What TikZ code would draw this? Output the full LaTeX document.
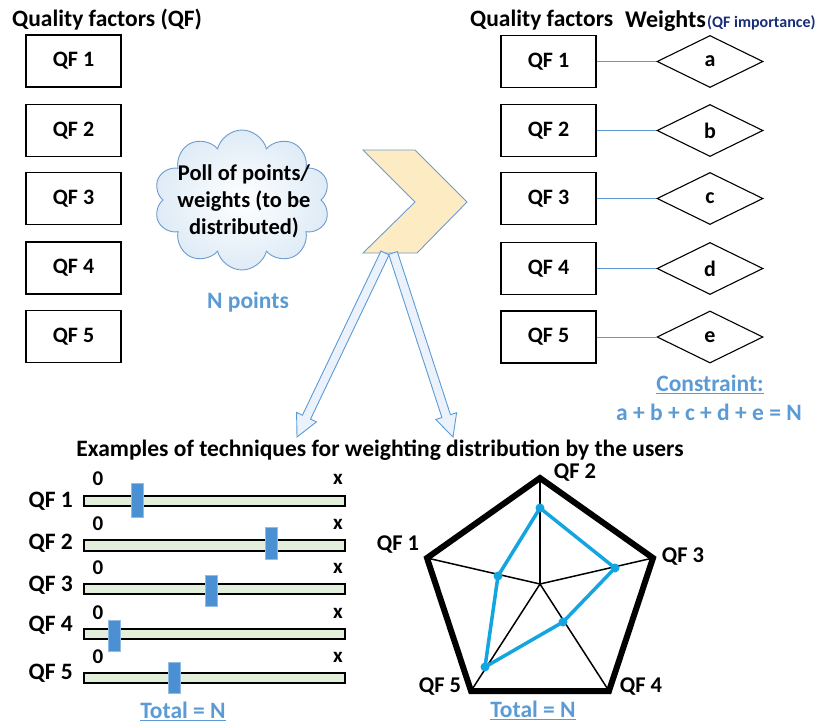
\documentclass[tikz,border=0pt]{standalone}
\usepackage{fontspec}
\setmainfont{Carlito}
\usetikzlibrary{shapes.geometric,shapes.symbols,calc}
\definecolor{qblue}{RGB}{91,155,213}
\definecolor{navyq}{RGB}{25,45,120}
\definecolor{cloudline}{RGB}{110,155,205}
\definecolor{chevfill}{RGB}{252,235,195}
\definecolor{radarblue}{RGB}{20,165,225}
\definecolor{barfill}{RGB}{226,239,218}
\definecolor{handlefill}{RGB}{74,144,210}
\definecolor{arrowfill}{RGB}{236,242,251}
\newcommand\fsz[2]{\fontsize{#1}{#2}\selectfont}
\begin{document}
\begin{tikzpicture}[x=1pt,y=-1pt,
  every node/.style={font=\bfseries\fsz{23.5}{28}, inner sep=0pt},
  qfbox/.style={draw, line width=1.1pt, minimum width=95pt, minimum height=52pt, font=\bfseries\fsz{22}{26}},
  wdiam/.style={draw, diamond, line width=1.1pt, minimum width=106pt, minimum height=52pt, font=\bfseries\fsz{22}{26}},
  link/.style={draw=qblue, line width=1pt},
  bararr/.style={draw=qblue, line width=0.9pt, fill=arrowfill, line join=miter},
  sbar/.style={draw, line width=1.2pt, fill=barfill},
  shandle/.style={draw=handlefill!60!white, line width=0.8pt, fill=handlefill},
  bluetxt/.style={text=qblue},
  small/.style={font=\bfseries\fsz{21}{25}}
]
\useasboundingbox (0,0) rectangle (823,726);

% ---------- headers ----------
\node[anchor=west] (hl) at (12,20) {Quality factors (QF)};
\node[anchor=west] (hr) at (470,20) {Quality factors};
\node[anchor=west, font=\bfseries\fsz{24}{28}] (hw) at (625,21) {Weights};
\node[anchor=west, text=navyq, font=\bfseries\fsz{16}{19}] (hi) at (707,23) {(QF importance)};

% ---------- left boxes ----------
\node[qfbox] (l1) at (73.5,61) {QF 1};
\node[qfbox] (l2) at (73.5,130.5) {QF 2};
\node[qfbox] (l3) at (73.5,198.5) {QF 3};
\node[qfbox] (l4) at (73.5,268) {QF 4};
\node[qfbox] (l5) at (73.5,336.5) {QF 5};

% ---------- cloud ----------
\node[cloud, cloud puffs=10, cloud ignores aspect, minimum width=176pt, minimum height=140pt,
      draw=cloudline, line width=0.9pt, inner color=white, outer color=qblue!20] (cloud) at (242,200) {};
\node[align=center, font=\bfseries\fsz{22.5}{27}] (cloudtxt) at (244,201) {Poll of points/\\weights (to be\\distributed)};
\node[bluetxt] (npts) at (248,302) {N points};

% ---------- chevron ----------
\coordinate (c1) at (363,150);
\coordinate (c2) at (415,150);
\coordinate (c3) at (467,202);
\coordinate (c4) at (417,253);
\coordinate (c5) at (363,253);
\coordinate (c6) at (415,202);
\draw[draw=cloudline, line width=0.9pt, fill=chevfill] (c1) -- (c2) -- (c3) -- (c4) -- (c5) -- (c6) -- cycle;

% ---------- block arrows ----------
\coordinate (s1) at (385,253);
\coordinate (t1) at (297,437);
\coordinate (s2) at (393,253);
\coordinate (t2) at (453,437);
\foreach \s/\t in {s1/t1, s2/t2}{
  \coordinate (h) at ($(\t)!22pt!(\s)$);
  \draw[bararr] ($(\s)!4.5pt!90:(\t)$) -- ($(h)!4.5pt!-90:(\s)$) -- ($(h)!11pt!-90:(\s)$) -- (\t)
     -- ($(h)!11pt!90:(\s)$) -- ($(h)!4.5pt!90:(\s)$) -- ($(\s)!4.5pt!-90:(\t)$) -- cycle;
}

% ---------- right boxes and diamonds ----------
\node[qfbox] (r1) at (548.5,61.5) {QF 1};
\node[qfbox] (r2) at (548.5,130.5) {QF 2};
\node[qfbox] (r3) at (548.5,198.5) {QF 3};
\node[qfbox] (r4) at (548.5,268.5) {QF 4};
\node[qfbox] (r5) at (548.5,337) {QF 5};
\node[wdiam] (d1) at (710,61.5) {a};
\node[wdiam] (d2) at (710,130.5) {b};
\node[wdiam] (d3) at (710,198.5) {c};
\node[wdiam] (d4) at (710,268.5) {d};
\node[wdiam] (d5) at (710,337) {e};
\foreach \i in {1,...,5}{ \draw[link] (r\i.east) -- (d\i.west); }

\node[bluetxt] (cons) at (710,384) {\underline{Constraint:}};
\node[bluetxt] (eq) at (709,412) {a + b + c + d + e = N};

% ---------- bottom title ----------
\node (ex) at (380,450) {Examples of techniques for weighting distribution by the users};

% ---------- sliders ----------
\foreach \i/\bt/\bb/\hx/\hy/\hyb/\ly/\zy in {
   1/496/506/131/483/517/501/479,
   2/540/551/265/527/559/543/524,
   3/584/594/205/575/606/585/568,
   4/629/639/108/620/651/625/613,
   5/673/683/168/662/693/673/657}{
  \draw[sbar] (84,\bt) rectangle (345,\bb);
  \draw[shandle] (\hx,\hy) rectangle ++(12.5,\hyb-\hy);
  \node[anchor=east] (sl\i) at (73,\ly) {QF \i};
  \node[small] (sz\i) at (98,\zy) {0};
  \node[small] (sx\i) at (338,\zy) {x};
}
\node[bluetxt] (tot1) at (183,711) {\underline{Total = N}};

% ---------- radar ----------
\coordinate (rc) at (540,584);
\coordinate (v2) at (540,478);
\coordinate (v3) at (653,558);
\coordinate (v4) at (609,691);
\coordinate (v5) at (471,691);
\coordinate (v1) at (427,558);
\foreach \v in {v1,v2,v3,v4,v5}{ \draw[line width=1.5pt] (rc) -- (\v); }
\draw[line width=6pt, line join=miter] (v1) -- (v2) -- (v3) -- (v4) -- (v5) -- cycle;
\coordinate (b2) at (540,508);
\coordinate (b3) at (615,568);
\coordinate (b4) at (563,622);
\coordinate (b5) at (485,667);
\coordinate (b1) at (498,576);
\draw[radarblue, line width=3.5pt, line join=round] (b1) -- (b2) -- (b3) -- (b4) -- (b5) -- cycle;
\foreach \b in {b1,b2,b3,b4,b5}{ \fill[radarblue] (\b) circle (4.5pt); }
\node[font=\bfseries\fsz{22.5}{26}] (rl2) at (575,473) {QF 2};
\node[font=\bfseries\fsz{22.5}{26}] (rl3) at (683,557) {QF 3};
\node[font=\bfseries\fsz{22.5}{26}] (rl4) at (641,687) {QF 4};
\node[font=\bfseries\fsz{22.5}{26}] (rl5) at (440,687) {QF 5};
\node[font=\bfseries\fsz{22.5}{26}] (rl1) at (398,545) {QF 1};
\node[bluetxt] (tot2) at (533,710) {\underline{Total = N}};
\end{tikzpicture}
\end{document}
